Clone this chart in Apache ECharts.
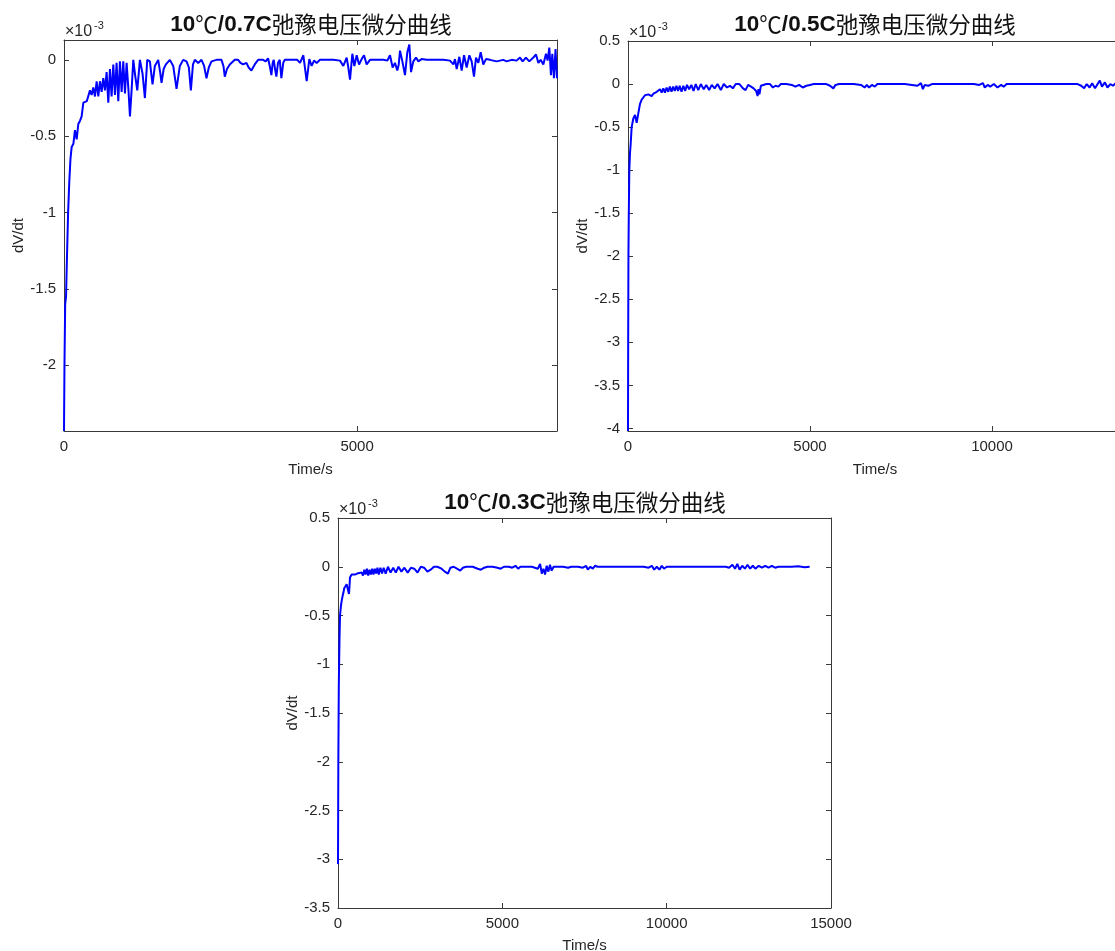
<!DOCTYPE html>
<html>
<head>
<meta charset="utf-8">
<script src="https://cdn.jsdelivr.net/npm/echarts@6/dist/echarts.min.js"></script>
<style>
html,body{margin:0;padding:0;background:#fff;}
#chart{width:1115px;height:951px;}
</style>
</head>
<body>
<div id="chart"></div>
<script>
// Titles
const titles = ['10℃/0.7C弛豫电压微分曲线', '10℃/0.5C弛豫电压微分曲线', '10℃/0.3C弛豫电压微分曲线'];
const xName = 'Time/s';
const yName = 'dV/dt';
const scaleNote = ['×10', '-3'];

// Tick labels
const xTicks07 = [0, 5000];
const xTicks05 = [0, 5000, 10000];
const xTicks03 = [0, 5000, 10000, 15000];
const yTicks07 = [-2, -1.5, -1, -0.5, 0];
const yTicks05 = [-4, -3.5, -3, -2.5, -2, -1.5, -1, -0.5, 0, 0.5];
const yTicks03 = [-3.5, -3, -2.5, -2, -1.5, -1, -0.5, 0, 0.5];

// Axis ranges (values in units of 1e-3); panel 2 runs past the right edge of the picture
const xRange07 = [0, 8410];
const yRange07 = [-2.43, 0.13];
const xRange05 = [0, 13570];
const yRange05 = [-4.03, 0.5];
const xRange03 = [0, 15000];
const yRange03 = [-3.5, 0.5];

// Series: [time s, dV/dt (x1e-3)]
const data07 = [[0,-2.43],[8,-2.0],[20,-1.6],[35,-1.55],[50,-1.3],[70,-1.0],[90,-0.8],[110,-0.65],[131,-0.57],[160,-0.55],[187,-0.46],[216,-0.52],[244,-0.42],[272,-0.4],[301,-0.37],[330,-0.28],[360,-0.28],[390,-0.27],[415,-0.27],[443,-0.2],[471,-0.23],[500,-0.18],[528,-0.24],[557,-0.14],[585,-0.24],[614,-0.14],[642,-0.21],[670,-0.12],[699,-0.2],[727,-0.08],[756,-0.28],[784,-0.06],[812,-0.24],[841,-0.03],[869,-0.23],[897,-0.02],[926,-0.27],[954,-0.01],[983,-0.21],[1011,-0.01],[1040,-0.22],[1068,-0.02],[1100,-0.2],[1125,-0.37],[1153,-0.2],[1182,0],[1210,-0.09],[1250,-0.2],[1295,0],[1340,-0.09],[1380,-0.25],[1420,0],[1465,-0.01],[1510,-0.16],[1550,-0.04],[1607,0],[1640,-0.08],[1664,-0.15],[1700,-0.06],[1738,-0.03],[1806,0],[1863,-0.04],[1920,-0.19],[1976,-0.04],[2033,0],[2090,-0.01],[2130,-0.05],[2164,-0.2],[2200,-0.03],[2232,0],[2289,-0.02],[2346,0],[2390,-0.04],[2431,-0.12],[2470,-0.05],[2516,-0.01],[2601,0],[2686,0],[2720,-0.04],[2743,-0.11],[2780,-0.06],[2828,-0.03],[2913,0],[2970,0],[3010,-0.02],[3055,-0.03],[3112,-0.02],[3150,-0.05],[3197,-0.07],[3254,-0.03],[3311,0],[3396,0],[3440,-0.01],[3481,0.01],[3515,-0.05],[3538,-0.1],[3560,-0.02],[3578,0],[3600,-0.06],[3623,-0.11],[3650,-0.02],[3680,0],[3708,-0.12],[3740,-0.02],[3765,0],[3907,0],[3980,0],[4026,-0.02],[4083,0.03],[4140,-0.14],[4185,0.005],[4225,-0.04],[4265,-0.005],[4310,-0.02],[4367,0],[4480,0],[4594,0],[4708,-0.005],[4765,-0.04],[4822,0.015],[4850,-0.05],[4879,-0.13],[4919,0.04],[4953,-0.04],[4993,0.03],[5033,-0.03],[5078,0.005],[5118,0.03],[5163,-0.03],[5220,0],[5334,0],[5447,0],[5516,-0.005],[5561,0.03],[5606,-0.05],[5646,-0.02],[5686,-0.07],[5710,-0.03],[5732,0.06],[5772,-0.01],[5817,-0.1],[5857,0.05],[5891,0.1],[5920,-0.08],[5959,-0.01],[6005,0.015],[6045,-0.01],[6101,0.005],[6187,0],[6300,0],[6471,0],[6585,-0.005],[6642,-0.03],[6670,0.005],[6699,-0.06],[6744,0.02],[6784,-0.07],[6824,0.03],[6869,-0.05],[6915,0.03],[6954,-0.01],[6994,-0.11],[7028,0.015],[7068,-0.02],[7108,0.05],[7153,-0.03],[7198,0.005],[7267,0],[7380,-0.01],[7494,0],[7551,-0.01],[7636,0],[7721,-0.005],[7778,0.015],[7824,-0.01],[7880,0.015],[7938,-0.01],[8006,0.015],[8052,0.035],[8092,-0.02],[8131,0],[8177,-0.03],[8222,0.04],[8250,-0.005],[8279,0.08],[8307,-0.1],[8330,0.04],[8358,-0.12],[8385,0.07],[8410,-0.12]];

const data05 = [[0,-4.03],[5,-3.0],[12,-2.0],[22,-1.5],[36,-1.0],[55,-0.8],[73,-0.7],[100,-0.5],[146,-0.4],[192,-0.36],[238,-0.45],[275,-0.45],[300,-0.3],[330,-0.23],[376,-0.18],[422,-0.16],[467,-0.13],[513,-0.15],[560,-0.12],[605,-0.12],[650,-0.14],[700,-0.11],[742,-0.13],[790,-0.09],[834,-0.11],[880,-0.06],[925,-0.1],[970,-0.05],[1015,-0.1],[1060,-0.04],[1105,-0.09],[1150,-0.03],[1195,-0.09],[1240,-0.03],[1285,-0.08],[1330,-0.02],[1375,-0.08],[1420,-0.02],[1470,-0.09],[1520,-0.02],[1570,-0.08],[1620,-0.01],[1680,-0.06],[1740,-0.01],[1800,-0.08],[1860,0],[1930,-0.07],[2000,0],[2080,-0.06],[2150,-0.01],[2230,-0.07],[2300,-0.01],[2380,-0.05],[2460,0],[2550,-0.07],[2630,0],[2720,-0.04],[2800,-0.02],[2880,-0.05],[2960,0],[3060,0],[3160,-0.05],[3230,-0.07],[3300,-0.01],[3380,-0.03],[3450,-0.05],[3520,-0.08],[3560,-0.14],[3583,-0.06],[3610,-0.12],[3650,-0.02],[3700,0],[3800,0],[3900,0],[3980,-0.04],[4050,-0.02],[4130,-0.03],[4200,0],[4350,0],[4500,-0.01],[4600,-0.03],[4700,-0.01],[4800,-0.04],[4900,-0.02],[5000,-0.01],[5100,0],[5300,0],[5450,0],[5550,-0.02],[5640,-0.05],[5700,-0.01],[5800,0],[6000,0],[6200,0],[6400,-0.01],[6500,-0.04],[6560,-0.01],[6620,-0.04],[6700,-0.01],[6780,-0.03],[6850,0],[7000,0],[7200,0],[7400,0],[7600,0],[7800,-0.01],[7950,-0.02],[8050,0.01],[8100,-0.06],[8150,-0.01],[8250,-0.02],[8350,0],[8600,0],[8900,0],[9200,0],[9500,0],[9650,-0.01],[9750,0.01],[9800,-0.04],[9880,-0.01],[9950,-0.03],[10050,0],[10150,-0.04],[10250,-0.01],[10320,-0.03],[10400,0],[10600,0],[10900,0],[11200,0],[11500,0],[11800,0],[12100,0],[12350,0],[12450,-0.02],[12530,-0.05],[12600,0],[12680,-0.04],[12750,0.01],[12830,-0.05],[12900,0],[12960,0.04],[13020,-0.03],[13100,0.02],[13170,-0.04],[13250,0],[13320,-0.02],[13400,0.01],[13480,-0.03],[13560,0]];

const data03 = [[0,-3.05],[10,-2.0],[25,-1.2],[45,-0.75],[61,-0.5],[90,-0.4],[112,-0.35],[140,-0.3],[162,-0.27],[190,-0.22],[213,-0.2],[263,-0.18],[300,-0.19],[334,-0.28],[350,-0.2],[365,-0.11],[416,-0.08],[470,-0.08],[517,-0.08],[580,-0.07],[640,-0.08],[720,-0.06],[760,-0.09],[800,-0.03],[840,-0.08],[880,-0.02],[920,-0.09],[960,-0.03],[1000,-0.08],[1040,-0.02],[1080,-0.08],[1120,-0.02],[1160,-0.07],[1200,-0.01],[1240,-0.08],[1290,-0.01],[1340,-0.07],[1390,-0.01],[1450,-0.07],[1520,0],[1600,-0.06],[1680,-0.01],[1760,-0.06],[1840,0],[1930,-0.05],[2020,-0.01],[2120,-0.06],[2220,-0.01],[2320,-0.02],[2420,-0.06],[2520,0],[2620,-0.01],[2720,-0.05],[2820,-0.03],[2920,0],[3020,0],[3150,-0.02],[3250,-0.05],[3345,-0.07],[3420,-0.01],[3520,0],[3620,-0.02],[3720,-0.04],[3800,-0.01],[3900,0],[4000,0],[4100,0],[4250,-0.02],[4350,-0.03],[4450,-0.01],[4550,0],[4700,0],[4850,-0.01],[4950,-0.02],[5050,0],[5200,0],[5300,-0.01],[5400,0.01],[5480,-0.02],[5550,0],[5700,0],[5900,0],[6080,-0.02],[6150,0.03],[6200,-0.07],[6250,-0.02],[6300,-0.08],[6350,0.01],[6400,-0.05],[6450,0.02],[6500,-0.04],[6560,0],[6620,-0.02],[6700,0],[6850,0],[7000,-0.01],[7100,0],[7300,0],[7450,-0.01],[7550,0.01],[7600,-0.03],[7680,0],[7750,-0.02],[7820,0.01],[7900,0],[8100,0],[8300,0],[8500,0],[8700,0],[8900,0],[9100,0],[9300,0],[9450,-0.01],[9550,0.01],[9620,-0.03],[9700,0],[9780,-0.03],[9850,0.01],[9920,-0.02],[10000,0],[10200,0],[10400,0],[10600,0],[10800,0],[11000,0],[11200,0],[11400,0],[11600,0],[11800,0],[11900,-0.01],[12000,0.02],[12080,-0.02],[12150,0.03],[12220,-0.03],[12300,0.01],[12380,-0.02],[12460,0.02],[12540,-0.02],[12620,0.01],[12700,-0.02],[12800,0.01],[12900,-0.01],[13000,0.01],[13100,-0.01],[13200,0.01],[13300,-0.01],[13400,0],[13600,0],[13800,0],[14000,0.005],[14200,-0.005],[14350,0]];

// ---- layout & style ----
const panels = [
  {grid:{left:64, top:40, width:493, height:391}, xr:xRange07, yr:yRange07, xt:xTicks07, yt:yTicks07, data:data07, title:titles[0], tx:311, ty:13, xGap:31, yGap:38},
  {grid:{left:628, top:41, width:494, height:390}, xr:xRange05, yr:yRange05, xt:xTicks05, yt:yTicks05, data:data05, title:titles[1], tx:875, ty:13, xGap:31, yGap:38},
  {grid:{left:338, top:518, width:493, height:390}, xr:xRange03, yr:yRange03, xt:xTicks03, yt:yTicks03, data:data03, title:titles[2], tx:585, ty:491, xGap:30, yGap:37}
];
const axisColor = '#3a3a3a';
const labelColor = '#262626';
const fontFam = '"Liberation Sans", Arial, Helvetica, sans-serif';
const fmt = v => String(Math.round(v * 1000) / 1000);

const grid = [], xAxis = [], yAxis = [], series = [], title = [], graphic = [];
panels.forEach((p, i) => {
  grid.push(Object.assign({outerBoundsMode:'none', containLabel:false}, p.grid));
  const line = {show:true, onZero:false, lineStyle:{color:axisColor, width:1}};
  const tick = vals => ({show:true, inside:true, length:5, customValues:vals, lineStyle:{color:axisColor}});
  xAxis.push({
    gridIndex:i, type:'value', min:p.xr[0], max:p.xr[1], position:'bottom',
    axisLine:line, axisTick:tick(p.xt),
    axisLabel:{show:true, customValues:p.xt, formatter:fmt, margin:8, fontSize:15, color:labelColor, fontFamily:fontFam},
    splitLine:{show:false},
    name:xName, nameLocation:'middle', nameGap:p.xGap,
    nameTextStyle:{fontSize:15, color:labelColor, fontFamily:fontFam}
  });
  xAxis.push({
    gridIndex:i, type:'value', min:p.xr[0], max:p.xr[1], position:'top',
    axisLine:line, axisTick:tick(p.xt), axisLabel:{show:false}, splitLine:{show:false}
  });
  yAxis.push({
    gridIndex:i, type:'value', min:p.yr[0], max:p.yr[1], position:'left',
    axisLine:line, axisTick:tick(p.yt),
    axisLabel:{show:true, customValues:p.yt, formatter:fmt, margin:8, fontSize:15, color:labelColor, fontFamily:fontFam},
    splitLine:{show:false},
    name:yName, nameLocation:'middle', nameGap:p.yGap, nameRotate:90,
    nameTextStyle:{fontSize:15, color:labelColor, fontFamily:fontFam}
  });
  yAxis.push({
    gridIndex:i, type:'value', min:p.yr[0], max:p.yr[1], position:'right',
    axisLine:line, axisTick:tick(p.yt), axisLabel:{show:false}, splitLine:{show:false}
  });
  series.push({
    type:'line', xAxisIndex:2*i, yAxisIndex:2*i, data:p.data,
    showSymbol:false, symbol:'none', clip:true,
    lineStyle:{color:'#0000ff', width:2}, itemStyle:{color:'#0000ff'}
  });
  const m = p.title.match(/^(10)(℃)(\/0\.\dC)(.*)$/);
  title.push({
    text:'{a|' + m[1] + '}{c|' + m[2] + '}{a|' + m[3] + '}{b|' + m[4] + '}',
    left:p.tx, top:p.ty, textAlign:'center', padding:0,
    textStyle:{rich:{
      a:{fontSize:22.5, fontWeight:'bold', color:'#111', fontFamily:fontFam},
      c:{fontSize:22.5, fontWeight:'normal', color:'#111', fontFamily:'"Noto Sans CJK SC", sans-serif'},
      b:{fontSize:22.5, fontWeight:'normal', color:'#111', fontFamily:'"Noto Sans CJK SC", sans-serif'}
    }}
  });
  graphic.push({
    type:'text', left:p.grid.left + 1, top:p.grid.top - 16,
    style:{text:scaleNote[0], fontSize:16, fill:labelColor, fontFamily:fontFam}
  });
  graphic.push({
    type:'text', left:p.grid.left + 30, top:p.grid.top - 20,
    style:{text:scaleNote[1], fontSize:11, fill:labelColor, fontFamily:fontFam}
  });
});

const chart = echarts.init(document.getElementById('chart'), null, {renderer:'canvas'});
chart.setOption({
  backgroundColor:'#ffffff',
  animation:false,
  title, grid, xAxis, yAxis, series, graphic
});
</script>
</body>
</html>
